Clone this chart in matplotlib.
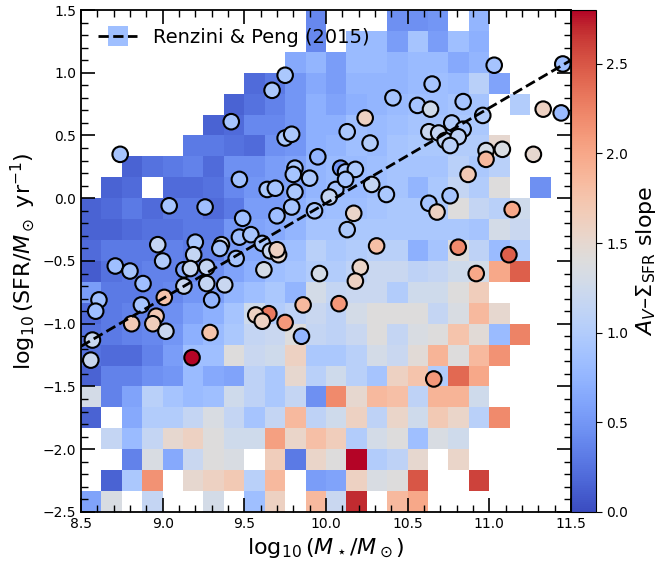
import numpy as np
import matplotlib
matplotlib.use("Agg")
import matplotlib.pyplot as plt
from matplotlib.lines import Line2D

### Data ###

# binned slope map, rows from top (1.5) to bottom (-2.5), 24 x 24 cells, None = empty
n = None
grid_rows = [
    [n, n, n, n, n, n, n, n, n, n, n, 0.4, n, n, n, 0.45, 0.45, 0.5, n, 0.75, n, n, n, n],
    [n, n, n, n, n, n, n, n, n, n, n, 0.4, n, 0.8, 0.8, 0.55, 0.9, 0.55, 0.85, 0.7, n, n, n, n],
    [n, n, n, n, n, n, n, n, n, n, 0.65, 0.75, 0.55, 0.8, 0.8, 0.75, 0.8, 0.8, 0.65, 0.75, n, n, n, n],
    [n, n, n, n, n, n, n, n, 0.2, 0.3, 0.5, 0.65, 0.55, 0.75, 0.75, 0.75, 0.8, 0.85, 0.8, 1.05, 0.6, n, n, n],
    [n, n, n, n, n, n, n, 0.15, 0.25, 0.35, 0.5, 0.7, 0.6, 0.7, 0.75, 0.8, 0.85, 0.85, 0.9, 0.9, n, 1.0, n, n],
    [n, n, n, n, n, n, 0.15, 0.2, 0.4, 0.4, 0.5, 0.7, 0.7, 0.85, 0.8, 0.85, 0.9, 0.9, 0.95, 0.95, n, n, n, n],
    [n, n, n, n, n, 0.3, 0.3, 0.25, 0.2, 0.45, 0.5, 0.7, 0.75, 0.85, 0.8, 0.9, 0.95, 0.95, 1.0, 1.0, 1.5, n, n, n],
    [n, n, 0.15, 0.25, 0.3, 0.35, 0.2, 0.45, 0.45, 0.55, 0.6, 0.75, 0.8, 0.8, 0.85, 0.9, 0.9, 0.9, 1.05, 0.95, 1.05, n, n, n],
    [n, 0.15, 0.2, n, 0.2, 0.2, 0.25, 0.4, 0.5, 0.55, 0.6, 0.75, 0.8, 0.8, 0.85, 0.9, 0.75, 0.95, 1.15, 1.0, 1.4, n, 0.45, n],
    [0.15, 0.2, 0.3, 0.2, 0.3, 0.3, 0.2, 0.3, 0.55, 0.55, 0.7, 0.8, 0.85, 0.85, 0.9, 0.95, 0.95, 0.95, 1.4, 1.15, 1.05, 1.25, n, n],
    [0.15, 0.15, 0.2, 0.25, 0.25, 0.3, 0.3, 0.5, 0.6, 0.65, 0.75, 0.9, 0.9, 0.95, 0.95, 0.95, 0.95, 0.95, 0.95, 0.9, 1.3, 1.2, n, n],
    [0.2, 0.3, 0.3, 0.3, 0.35, 0.3, 0.35, 0.55, 0.65, 0.8, 0.85, 1.05, 0.95, 1.0, 1.05, 1.05, 0.7, 0.9, 1.4, 1.1, 0.8, 1.0, n, n],
    [0.1, 0.25, 0.3, 0.35, 0.35, 0.4, 0.45, 0.6, 0.7, 0.85, 0.9, 1.0, 1.0, 1.1, 1.2, 1.2, 1.1, 1.15, 1.25, 1.3, 2.0, 2.45, n, n],
    [0.55, 0.3, 0.3, 0.35, 0.4, 0.5, 0.55, 0.75, 0.85, 0.95, 0.75, 1.3, 1.15, 1.2, 1.2, 1.0, 1.25, 1.25, 1.4, 1.65, n, n, n, n],
    [0.2, 0.3, 0.35, 0.35, 0.45, 0.6, 0.7, 0.9, 1.25, 1.0, 1.1, 1.2, 1.1, 1.3, 1.4, 1.4, 1.4, 1.15, 1.35, 1.85, 1.5, n, n, n],
    [0.25, 0.3, 0.35, 0.4, 0.5, 0.7, 0.8, 0.95, 1.15, 1.2, 1.4, 1.15, 1.1, 1.2, 1.4, 1.15, 1.35, 1.4, 1.75, 1.45, 0.8, 2.25, n, n],
    [0.25, 0.2, 0.2, 0.35, 0.55, 0.85, 0.85, 1.4, 1.2, 1.25, 1.6, 0.95, 0.95, 1.05, 1.3, 1.2, 1.45, 1.9, 1.4, 1.85, 2.15, n, n, n],
    [0.15, 0.35, 0.35, 0.45, 0.5, 0.8, 0.65, 0.6, 1.1, 0.95, 1.5, 1.05, 1.25, 1.05, 0.9, 1.6, 1.75, 1.0, 2.4, 2.0, n, n, n, n],
    [1.3, 0.35, 0.6, 1.05, 0.9, 0.8, 0.85, 1.25, 1.1, 0.95, 1.15, 0.45, 2.2, 1.5, 1.85, 1.8, 1.1, 1.9, 1.9, 1.25, n, n, n, n],
    [0.15, n, 0.65, 1.0, 1.0, 1.15, 1.35, 1.15, 0.9, 1.15, 1.85, 1.1, 1.25, 1.6, 1.1, 1.55, 1.25, 1.7, 1.55, 1.05, 2.2, n, n, n],
    [n, 1.15, 0.8, 1.15, 1.5, 1.6, 1.4, 1.25, 1.25, 2.05, 1.55, 1.8, 1.65, 1.0, 1.3, 1.4, 0.85, 1.35, 1.25, n, n, n, n, n],
    [n, n, 0.35, 1.35, 0.65, 1.2, 1.4, 1.35, n, 1.65, 0.3, 1.55, 1.4, 2.8, 1.0, 1.1, 1.5, n, 1.55, n, n, n, n, n],
    [n, 0.15, 0.95, 2.15, n, 1.5, 1.6, 1.7, 1.05, 1.85, n, 0.55, 0.6, 1.6, 1.35, 1.4, 2.5, n, n, 2.6, n, n, n, n],
    [0.6, 1.35, n, 1.15, n, n, 1.3, n, 0.85, 1.6, n, 1.85, 1.2, 2.7, n, 1.85, 2.0, n, n, n, n, n, n, n],
]

# individual galaxies: stellar mass, SFR, slope
gal_logm = [8.74, 9.42, 9.75, 9.67, 10.24, 10.13, 10.27, 9.75, 9.79, 9.95,
            9.81, 9.80, 9.90, 10.09, 10.12, 10.18, 10.41, 11.03, 10.65, 10.56,
            10.64, 10.84, 10.96, 11.33, 10.63, 10.69, 10.77, 10.84, 10.73, 10.81,
            10.76, 10.98, 11.08, 11.27, 10.98, 10.87, 11.45, 11.44, 9.04, 9.26,
            9.47, 8.97, 9.20, 9.19, 9.36, 9.35, 9.00, 8.71, 8.80, 8.88,
            9.13, 9.17, 9.27, 9.27, 9.38, 9.30, 9.13, 9.01, 8.61, 8.59,
            8.87, 8.96, 8.94, 8.81, 9.02, 9.29, 8.57, 8.56, 9.18, 9.64,
            9.69, 9.81, 10.06, 10.02, 10.12, 10.28, 10.37, 9.79, 9.70, 9.49,
            9.93, 10.17, 10.13, 9.47, 9.54, 9.61, 9.66, 9.71, 9.70, 9.45,
            9.62, 9.96, 10.31, 10.21, 10.18, 10.08, 9.86, 9.65, 9.57, 9.61,
            9.75, 9.85, 10.63, 10.76, 10.68, 11.14, 10.81, 11.12, 10.92, 10.66]
gal_logsfr = [0.35, 0.61, 0.98, 0.86, 0.64, 0.53, 0.44, 0.48, 0.51, 0.33,
              0.24, 0.19, 0.16, 0.24, 0.21, 0.23, 0.80, 1.06, 0.91, 0.74,
              0.71, 0.77, 0.66, 0.71, 0.53, 0.52, 0.60, 0.55, 0.46, 0.49,
              0.42, 0.38, 0.39, 0.35, 0.31, 0.19, 1.07, 0.68, -0.06, -0.07,
              0.15, -0.37, -0.35, -0.45, -0.37, -0.40, -0.50, -0.54, -0.58, -0.68,
              -0.57, -0.56, -0.55, -0.68, -0.69, -0.81, -0.70, -0.79, -0.81, -0.90,
              -0.85, -0.94, -1.00, -1.00, -1.06, -1.07, -1.13, -1.29, -1.27, 0.07,
              0.08, 0.05, 0.07, 0.01, 0.15, 0.11, 0.03, -0.07, -0.14, -0.16,
              -0.10, -0.12, -0.25, -0.31, -0.29, -0.36, -0.42, -0.45, -0.41, -0.48,
              -0.57, -0.60, -0.38, -0.55, -0.66, -0.84, -0.85, -0.92, -0.93, -0.98,
              -0.99, -1.10, -0.04, 0.02, -0.11, -0.09, -0.39, -0.45, -0.60, -1.44]
gal_slope = [0.9, 0.9, 0.95, 0.95, 1.6, 0.95, 1.0, 0.95, 0.95, 0.75,
             0.95, 0.9, 0.95, 0.5, 0.9, 0.95, 0.9, 0.9, 0.9, 0.9,
             1.25, 0.9, 1.0, 1.6, 1.2, 1.15, 1.0, 0.95, 1.1, 1.1,
             1.05, 1.3, 1.35, 1.5, 1.85, 1.7, 0.85, 0.8, 0.9, 0.85,
             0.85, 1.15, 0.95, 1.15, 1.2, 0.9, 1.0, 0.85, 0.9, 0.85,
             0.65, 1.15, 1.15, 1.15, 1.2, 0.75, 1.2, 1.75, 0.85, 0.85,
             0.9, 1.7, 1.65, 1.7, 1.2, 1.75, 1.2, 1.2, 2.8, 0.95,
             0.9, 0.95, 0.9, 1.15, 0.9, 1.15, 0.95, 0.9, 0.85, 0.85,
             0.95, 1.55, 0.95, 0.85, 0.9, 0.95, 1.2, 1.5, 1.6, 0.9,
             1.3, 1.3, 1.8, 1.55, 1.6, 2.1, 1.85, 2.3, 1.6, 1.6,
             2.1, 0.75, 0.9, 0.9, 1.6, 2.0, 2.2, 2.45, 2.0, 2.1]

# Renzini & Peng (2015) main sequence end points
ms_logm = [8.5, 11.5]
ms_logsfr = [-1.18, 1.10]

### Figure ###

vmin, vmax = 0.0, 2.8
cmap = "coolwarm"

fig = plt.figure(figsize=(6.66, 5.62), dpi=100)
ax = fig.add_axes([0.1216, 0.089, 0.7357, 0.8932])
cax = fig.add_axes([0.8574, 0.089, 0.0375, 0.8932])

grid = np.array([[np.nan if v is None else v for v in row] for row in grid_rows])[::-1]
xedges = np.linspace(8.5, 11.5, grid.shape[1] + 1)
yedges = np.linspace(-2.5, 1.5, grid.shape[0] + 1)
ax.pcolormesh(xedges, yedges, np.ma.masked_invalid(grid), cmap=cmap,
              vmin=vmin, vmax=vmax, zorder=1)

sc = ax.scatter(gal_logm, gal_logsfr, c=gal_slope, cmap=cmap, vmin=vmin, vmax=vmax,
                s=125, edgecolors="k", linewidths=1.5, zorder=3)

ms_line, = ax.plot(ms_logm, ms_logsfr, "k--", lw=2, zorder=4)

# legend handle: a map cell with the dashed line on top
cell = Line2D([], [], marker="s", ls="none", markersize=15,
              markerfacecolor=plt.get_cmap(cmap)(0.85 / vmax), markeredgewidth=0)
ax.legend([(cell, ms_line)], ["Renzini & Peng (2015)"], loc="upper left",
          frameon=False, fontsize=14)

ax.set_xlim(8.5, 11.5)
ax.set_ylim(-2.5, 1.5)
ax.set_xticks(np.arange(8.5, 11.51, 0.5))
ax.set_yticks(np.arange(-2.5, 1.51, 0.5))
ax.minorticks_on()
ax.xaxis.set_minor_locator(matplotlib.ticker.MultipleLocator(0.1))
ax.yaxis.set_minor_locator(matplotlib.ticker.MultipleLocator(0.1))
ax.tick_params(which="both", direction="in", top=True, right=True, labelsize=10)
ax.tick_params(which="major", length=10, width=1.2)
ax.tick_params(which="minor", length=5, width=1.0)
for sp in ax.spines.values():
    sp.set_linewidth(1.3)

ax.set_xlabel(r"$\log_{10}(M_\star/M_\odot)$", fontsize=16)
ax.set_ylabel(r"$\log_{10}({\rm SFR}/M_\odot\ {\rm yr}^{-1})$", fontsize=16)

cb = fig.colorbar(sc, cax=cax)
cb.set_ticks(np.arange(0, 2.51, 0.5))
cb.ax.tick_params(labelsize=10, length=4)
cb.set_label(r"$A_V$–$\Sigma_{\rm SFR}$ slope", fontsize=16)

fig.savefig("out.png", dpi=100)
